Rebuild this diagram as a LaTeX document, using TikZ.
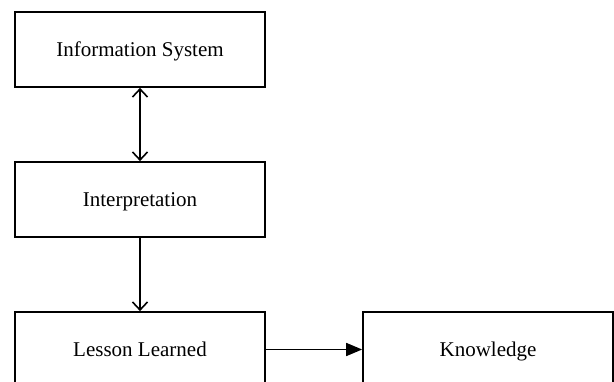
\documentclass[tikz,border=0pt]{standalone}
\usepackage{fontspec}
\setmainfont{Liberation Serif}
\usetikzlibrary{arrows.meta}
\tikzset{
  barb/.tip={Straight Barb[length=8pt,width=15pt,line width=1.6pt]},
  tri/.tip={Triangle[length=16pt,width=13pt]}}
\begin{document}
\begin{tikzpicture}[x=1pt,y=1pt,
  box/.style={draw, line width=1.7pt, minimum width=250pt, minimum height=75pt, inner sep=0pt,
    text height=14.3pt, text depth=0pt, font=\fontsize{21}{25}\selectfont},
  conn/.style={line width=1.7pt}]
\useasboundingbox (0,0) rectangle (614,381);
\node[box] (info) at (140,331.5) {Information System};
\node[box] (interp) at (140,181.5) {Interpretation};
\node[box] (lesson) at (140,31.5) {Lesson Learned};
\node[box] (know) at (488,31.5) {Knowledge};
\draw[conn,barb-barb] (info.south) -- (interp.north);
\draw[conn,-barb] (interp.south) -- (lesson.north);
\draw[conn,-tri] (lesson.east) -- (know.west);
\end{tikzpicture}
\end{document}
